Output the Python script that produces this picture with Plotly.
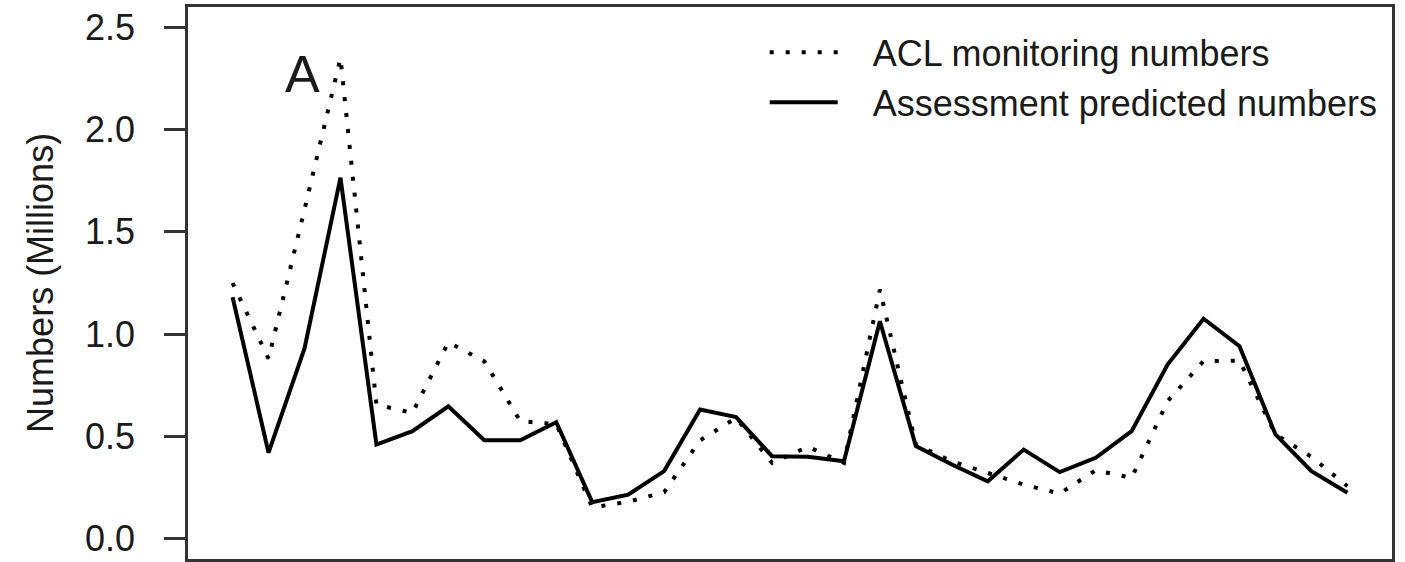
import plotly.graph_objects as go

# Data (index 1..32; x axis unlabeled in the reference)
x_index = list(range(1, 33))
acl_monitoring = [1.25, 0.88, 1.61, 2.35, 0.655, 0.615, 0.96, 0.867, 0.574, 0.56,
                  0.152, 0.18, 0.227, 0.48, 0.59, 0.37, 0.449, 0.37, 1.218, 0.46,
                  0.378, 0.32, 0.264, 0.22, 0.334, 0.297, 0.672, 0.868, 0.87, 0.51,
                  0.40, 0.256]
assessment_pred = [1.18, 0.42, 0.93, 1.765, 0.46, 0.525, 0.647, 0.481, 0.481, 0.569,
                   0.178, 0.215, 0.33, 0.631, 0.594, 0.403, 0.40, 0.378, 1.063, 0.452,
                   0.362, 0.28, 0.435, 0.325, 0.395, 0.525, 0.851, 1.075, 0.941, 0.509,
                   0.33, 0.224]
y_ticks = [0.0, 0.5, 1.0, 1.5, 2.0, 2.5]
y_tick_labels = ["0.0", "0.5", "1.0", "1.5", "2.0", "2.5"]
series_names = ["ACL monitoring numbers", "Assessment predicted numbers"]
panel_label = "A"

FONT = "Liberation Sans, Arial, sans-serif"
INK = "#1a1a1a"
GAP = "\u00a0\u00a0\u00a0"

fig = go.Figure()
fig.add_trace(go.Scatter(
    x=x_index, y=acl_monitoring, mode="lines", name=GAP + series_names[0],
    line=dict(color="black", width=4, dash="4px,12px"),
))
fig.add_trace(go.Scatter(
    x=x_index, y=assessment_pred, mode="lines", name=GAP + series_names[1],
    line=dict(color="black", width=4),
))

n = len(x_index)
pad = 0.04 * (n - 1)
fig.update_xaxes(
    range=[1 - pad, n + pad], showticklabels=False, ticks="",
    showgrid=False, zeroline=False, automargin=False,
    showline=True, mirror=True, linecolor="#333333", linewidth=2.5,
)
fig.update_yaxes(
    range=[-0.1, 2.6], tickvals=y_ticks, ticktext=y_tick_labels,
    ticks="outside", ticklen=21, tickwidth=2.5, tickcolor="#333333",
    ticklabelstandoff=22, automargin=False,
    tickfont=dict(family=FONT, size=36, color=INK),
    showgrid=False, zeroline=False,
    showline=True, mirror=True, linecolor="#333333", linewidth=2.5,
)

fig.add_annotation(
    x=2.95, y=2.27, xref="x", yref="y", text=panel_label, showarrow=False,
    font=dict(family=FONT, size=52, color=INK), xanchor="center", yanchor="middle",
)
fig.add_annotation(
    x=-0.123, y=0.5, xref="paper", yref="paper", text="Numbers (Millions)",
    textangle=-90, showarrow=False,
    font=dict(family=FONT, size=36, color=INK), xanchor="center", yanchor="middle",
)

fig.update_layout(
    width=1405, height=562,
    margin=dict(l=188, r=13, t=7, b=3, autoexpand=False),
    paper_bgcolor="white", plot_bgcolor="white",
    showlegend=True,
    legend=dict(
        x=0.479, y=0.972, xanchor="left", yanchor="top",
        bgcolor="rgba(0,0,0,0)", borderwidth=0,
        font=dict(family=FONT, size=36, color=INK),
        tracegroupgap=0, itemwidth=68,
    ),
)

fig.write_html(
    "out.html",
    config={"displayModeBar": False},
    post_script="document.body.style.margin='0';document.body.style.overflow='hidden';",
)
